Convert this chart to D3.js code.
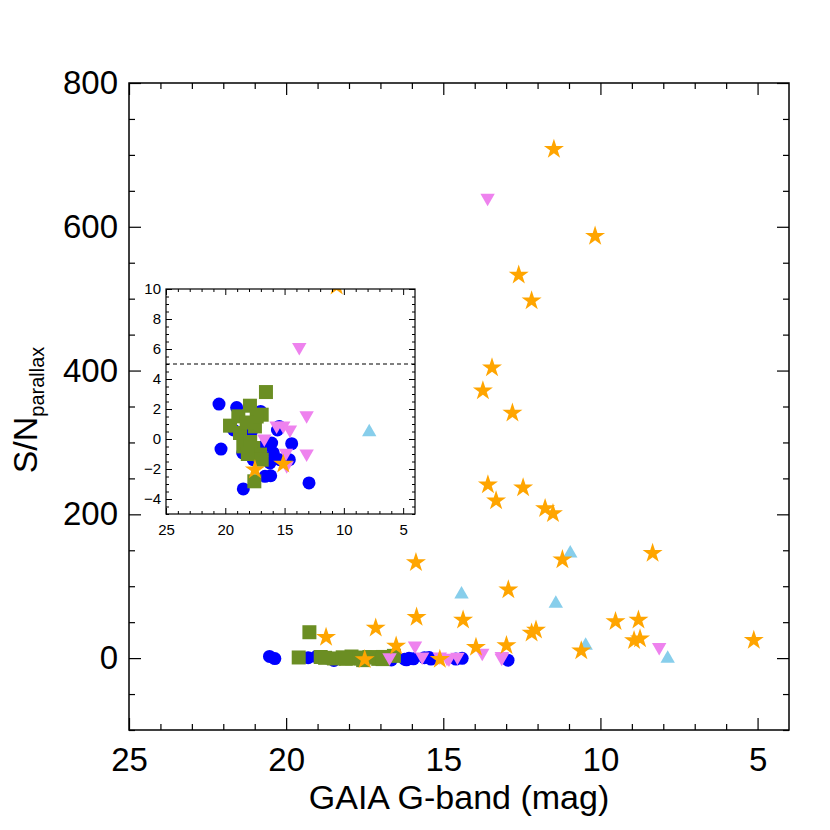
<!DOCTYPE html>
<html>
<head>
<meta charset="utf-8">
<script src="https://cdn.jsdelivr.net/npm/d3@7"></script>
<style>
  html, body { margin: 0; padding: 0; background: #fff; }
  svg { display: block; }
  text { font-family: "Liberation Sans", Arial, Helvetica, sans-serif; fill: #000; }
</style>
</head>
<body>
<svg id="chart" width="830" height="830"></svg>
<script>
// ---------------- DATA (GAIA G mag, S/N parallax) ----------------
const blueCircles = [
  [20.53, 2.33], [20.36, -0.67], [19.04, 2.1], [19.3, 0.6], [18.53, -0.93], [18.48, -3.33],
  [18.2, 0.2], [17.8, 0.5], [18.7, 0.3], [17.02, 1.84], [17.64, -1.38], [16.65, -2.49],
  [16.17, -2.45], [16.09, -0.27], [15.95, -0.93], [16.23, -1.6], [16.8, -0.5], [15.6, 0.6],
  [15.45, 0.84], [14.4, -0.31], [15.39, -1.38], [14.6, -1.38], [12.94, -2.93]
];
const greenSquares = [
  [19.26, 36], [19.6, 0.89], [18.9, 1.51], [17.92, 2.22], [16.93, 1.62], [17.5, 0.84],
  [18.76, 0.4], [18.48, -0.49], [17.64, -0.6], [17.07, -1.04], [17.35, 1.5], [17.55, -2.82],
  [16.93, -1.38], [16.57, 3.13], [18.2, 1.1], [17.9, -0.2], [18.1, -1.0]
];
const violetTriangles = [
  [13.59, 639], [8.13, 14], [15.9, 16], [13.76, 6.07], [13.14, 1.51], [13.14, -1.04],
  [15.67, 0.84], [15.11, 0.84], [14.55, 0.57], [16.71, -0.04], [14.88, -0.98], [14.82, -1.82]
];
const skyTriangles = [
  [14.42, 90], [10.96, 147], [11.42, 77], [10.47, 18.5], [7.86, 0.51]
];
const orangeStars = [
  [11.48, 708], [10.17, 587], [12.6, 533], [12.19, 497], [13.45, 404], [13.74, 372],
  [12.8, 341], [13.58, 241], [12.46, 237], [13.32, 219], [11.76, 208], [11.51, 201],
  [11.21, 137], [8.34, 146], [15.87, 133], [12.93, 95], [14.37, 53], [15.85, 57],
  [17.15, 42], [18.73, 29], [16.5, 17], [13.96, 15], [12.99, 17.5], [12.19, 35],
  [12.05, 39], [10.61, 10.2], [9.52, 51], [8.79, 53], [8.93, 24.5], [8.74, 27],
  [5.12, 25], [17.5, -2.05], [15.11, -1.67]
];
const xTicks = [25, 20, 15, 10, 5];
const yTicksMain = [0, 200, 400, 600, 800];
const yTicksInset = [-4, -2, 0, 2, 4, 6, 8, 10];
const snThreshold = 5;

// ---------------- LAYOUT ----------------
const svg = d3.select("#chart");
const main = { x0: 129, x1: 789, y0: 83, y1: 730 };
const ins  = { x0: 166, x1: 415, y0: 289, y1: 514 };

const xMain = d3.scaleLinear().domain([25, 4]).range([main.x0, main.x1]);
const yMain = d3.scaleLinear().domain([-100, 800]).range([main.y1, main.y0]);
const xIns  = d3.scaleLinear().domain([25, 4]).range([ins.x0, ins.x1]);
const yIns  = d3.scaleLinear().domain([-5, 10]).range([ins.y1, ins.y0]);

const series = [
  { data: blueCircles,     shape: "circle",   color: "#0000ff" },
  { data: greenSquares,    shape: "square",   color: "#6b8e23" },
  { data: violetTriangles, shape: "down",     color: "#ee82ee" },
  { data: skyTriangles,    shape: "up",       color: "#87ceeb" },
  { data: orangeStars,     shape: "star",     color: "#ffa500" }
];

function symbolPath(shape) {
  switch (shape) {
    case "circle": return d3.symbol(d3.symbolCircle, Math.PI * 6.5 * 6.5)();
    case "square": return d3.symbol(d3.symbolSquare, 14 * 14)();
    case "up": return "M0,-7.5L7.2,5L-7.2,5Z";
    case "down": return "M0,7.5L7.2,-5L-7.2,-5Z";
    case "star": return d3.symbol(d3.symbolStar, 124)();
  }
}

function drawPoints(g, xs, ys) {
  series.forEach(s => {
    g.append("g").selectAll("path").data(s.data).join("path")
      .attr("d", symbolPath(s.shape))
      .attr("transform", d => `translate(${xs(d[0])},${ys(d[1])})`)
      .attr("fill", s.color);
  });
}

function drawAxes(g, xs, ys, box, opt) {
  // bottom
  g.append("g").attr("transform", `translate(0,${box.y1})`)
    .call(d3.axisBottom(xs).tickValues(opt.xMinor).tickSize(-opt.minor).tickFormat(""));
  g.append("g").attr("transform", `translate(0,${box.y1})`)
    .call(d3.axisBottom(xs).tickValues(xTicks).tickSize(-opt.major).tickPadding(opt.xPad).tickFormat(d3.format("d")))
    .call(a => a.selectAll("text").attr("font-size", opt.xFont));
  // top
  g.append("g").attr("transform", `translate(0,${box.y0})`)
    .call(d3.axisTop(xs).tickValues(opt.xMinor).tickSize(-opt.minor).tickFormat(""));
  g.append("g").attr("transform", `translate(0,${box.y0})`)
    .call(d3.axisTop(xs).tickValues(xTicks).tickSize(-opt.major).tickFormat(""));
  // left
  g.append("g").attr("transform", `translate(${box.x0},0)`)
    .call(d3.axisLeft(ys).tickValues(opt.yMinor).tickSize(-opt.minor).tickFormat(""));
  g.append("g").attr("transform", `translate(${box.x0},0)`)
    .call(d3.axisLeft(ys).tickValues(opt.yTicks).tickSize(-opt.major).tickPadding(opt.yPad).tickFormat(d3.format("d")))
    .call(a => a.selectAll("text").attr("font-size", opt.yFont));
  // right
  g.append("g").attr("transform", `translate(${box.x1},0)`)
    .call(d3.axisRight(ys).tickValues(opt.yMinor).tickSize(-opt.minor).tickFormat(""));
  g.append("g").attr("transform", `translate(${box.x1},0)`)
    .call(d3.axisRight(ys).tickValues(opt.yTicks).tickSize(-opt.major).tickFormat(""));
  g.selectAll(".domain").remove();
  g.selectAll(".tick line").attr("stroke", "#000").attr("stroke-width", opt.tickW);
  g.selectAll(".tick text").attr("fill", "#000").attr("font-family", "'Liberation Sans', Arial, sans-serif");
  g.append("rect").attr("x", box.x0).attr("y", box.y0)
    .attr("width", box.x1 - box.x0).attr("height", box.y1 - box.y0)
    .attr("fill", "none").attr("stroke", "#000").attr("stroke-width", opt.frameW);
}

// ---------------- MAIN PANEL ----------------
svg.append("defs").append("clipPath").attr("id", "clipMain")
  .append("rect").attr("x", main.x0).attr("y", main.y0)
  .attr("width", main.x1 - main.x0).attr("height", main.y1 - main.y0);

const gMainPts = svg.append("g").attr("clip-path", "url(#clipMain)");
drawPoints(gMainPts, xMain, yMain);

drawAxes(svg.append("g"), xMain, yMain, main, {
  xMinor: d3.range(5, 26, 1).filter(v => v % 5 !== 0),
  yMinor: d3.range(-100, 801, 50).filter(v => v % 200 !== 0),
  yTicks: yTicksMain, major: 12, minor: 6, xPad: 18, yPad: 11,
  xFont: 33, yFont: 33, tickW: 1.2, frameW: 1.5
});

// axis titles
svg.append("text").attr("x", (main.x0 + main.x1) / 2).attr("y", 809)
  .attr("text-anchor", "middle").attr("font-size", 34).text("GAIA G-band (mag)");

const yt = svg.append("text").attr("transform", "translate(37,410) rotate(-90)")
  .attr("text-anchor", "middle").attr("font-size", 34);
yt.append("tspan").text("S/N");
yt.append("tspan").attr("dy", 7).attr("font-size", 20).text("parallax");

// ---------------- INSET ----------------
svg.append("rect").attr("x", ins.x0).attr("y", ins.y0)
  .attr("width", ins.x1 - ins.x0).attr("height", ins.y1 - ins.y0).attr("fill", "#fff");

svg.select("defs").append("clipPath").attr("id", "clipIns")
  .append("rect").attr("x", ins.x0).attr("y", ins.y0)
  .attr("width", ins.x1 - ins.x0).attr("height", ins.y1 - ins.y0);

const gInsPts = svg.append("g").attr("clip-path", "url(#clipIns)");
gInsPts.append("line")
  .attr("x1", ins.x0).attr("x2", ins.x1)
  .attr("y1", yIns(snThreshold)).attr("y2", yIns(snThreshold))
  .attr("stroke", "#000").attr("stroke-width", 1.2).attr("stroke-dasharray", "4,3");
drawPoints(gInsPts, xIns, yIns);

drawAxes(svg.append("g"), xIns, yIns, ins, {
  xMinor: d3.range(5, 26, 1).filter(v => v % 5 !== 0),
  yMinor: d3.range(-5, 10.01, 0.5).filter(v => Math.abs(v % 2) > 1e-9),
  yTicks: yTicksInset, major: 6, minor: 3, xPad: 10, yPad: 5,
  xFont: 15, yFont: 15, tickW: 1, frameW: 1.2
});
</script>
</body>
</html>
